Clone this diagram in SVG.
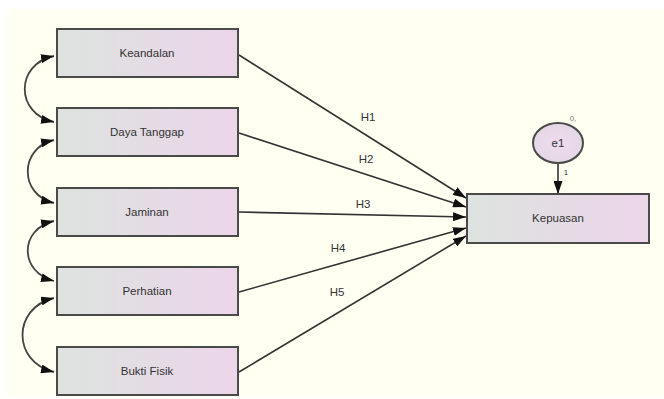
<svg xmlns="http://www.w3.org/2000/svg" width="664" height="399" viewBox="0 0 664 399">
<defs>
<linearGradient id="g" x1="0" y1="0" x2="1" y2="0">
<stop offset="0" stop-color="#dde3df"/>
<stop offset="1" stop-color="#ecd5ea"/>
</linearGradient>
<radialGradient id="gc" cx="0.5" cy="0.5" r="0.6">
<stop offset="0" stop-color="#efdcef"/>
<stop offset="1" stop-color="#e2d6e2"/>
</radialGradient>
<marker id="ah" viewBox="0 0 13 9" refX="13" refY="4.5" markerWidth="13" markerHeight="9" markerUnits="userSpaceOnUse" orient="auto-start-reverse">
<path d="M0,0 L13,4.5 L0,9 Z" fill="#111"/>
</marker>
</defs>
<style>
.box{fill:url(#g);stroke:#4a4a4a;stroke-width:2}
.t{font-family:"Liberation Sans",Arial,sans-serif;font-size:11.5px;fill:#333;text-anchor:middle;dominant-baseline:central}
.c{fill:none;stroke:#333;stroke-width:1.6}
.cov{fill:none;stroke:#444;stroke-width:1.8}
</style>
<rect x="0" y="0" width="664" height="399" fill="#ffffff"/>
<rect x="7" y="9" width="657" height="388" fill="#fffff2"/>
<g id="connectors">
<path class="cov" d="M54,56 C15,64 15,114 54,122" marker-start="url(#ah)" marker-end="url(#ah)"/>
<path class="cov" d="M54,140 C19,148 19,195 54,203" marker-start="url(#ah)" marker-end="url(#ah)"/>
<path class="cov" d="M54,221 C19,229 19,272 54,281" marker-start="url(#ah)" marker-end="url(#ah)"/>
<path class="cov" d="M54,298 C12,308 12,362 54,372" marker-start="url(#ah)" marker-end="url(#ah)"/>
<line class="c" x1="239" y1="55" x2="466" y2="198" marker-end="url(#ah)"/>
<line class="c" x1="239" y1="133" x2="466" y2="207" marker-end="url(#ah)"/>
<line class="c" x1="239" y1="212" x2="466" y2="217" marker-end="url(#ah)"/>
<line class="c" x1="239" y1="292" x2="466" y2="228" marker-end="url(#ah)"/>
<line class="c" x1="239" y1="372" x2="466" y2="236" marker-end="url(#ah)"/>
<line class="c" x1="558" y1="163" x2="558" y2="194" marker-end="url(#ah)"/>
<text class="t" x="368" y="117">H1</text>
<text class="t" x="366" y="159">H2</text>
<text class="t" x="363" y="204">H3</text>
<text class="t" x="338" y="248">H4</text>
<text class="t" x="337" y="292">H5</text>
<text class="t" x="566" y="172" style="font-size:8px">1</text>
</g>
<g id="keandalan"><rect class="box" x="57" y="29" width="181" height="48"/><text class="t" x="147" y="53">Keandalan</text></g>
<g id="daya-tanggap"><rect class="box" x="57" y="108" width="181" height="48"/><text class="t" x="147" y="132">Daya Tanggap</text></g>
<g id="jaminan"><rect class="box" x="57" y="188" width="181" height="48"/><text class="t" x="147" y="212">Jaminan</text></g>
<g id="perhatian"><rect class="box" x="57" y="267" width="181" height="48"/><text class="t" x="147" y="291">Perhatian</text></g>
<g id="bukti-fisik"><rect class="box" x="57" y="347" width="181" height="48"/><text class="t" x="147" y="371">Bukti Fisik</text></g>
<g id="kepuasan"><rect class="box" x="467" y="194" width="182" height="49"/><text class="t" x="558" y="218">Kepuasan</text></g>
<g id="e1"><ellipse cx="558" cy="143" rx="25" ry="20" fill="url(#gc)" stroke="#4a4a4a" stroke-width="2"/><text class="t" x="558" y="143">e1</text><text class="t" x="573" y="118" style="font-size:8px;fill:#777">0,</text></g>
</svg>
